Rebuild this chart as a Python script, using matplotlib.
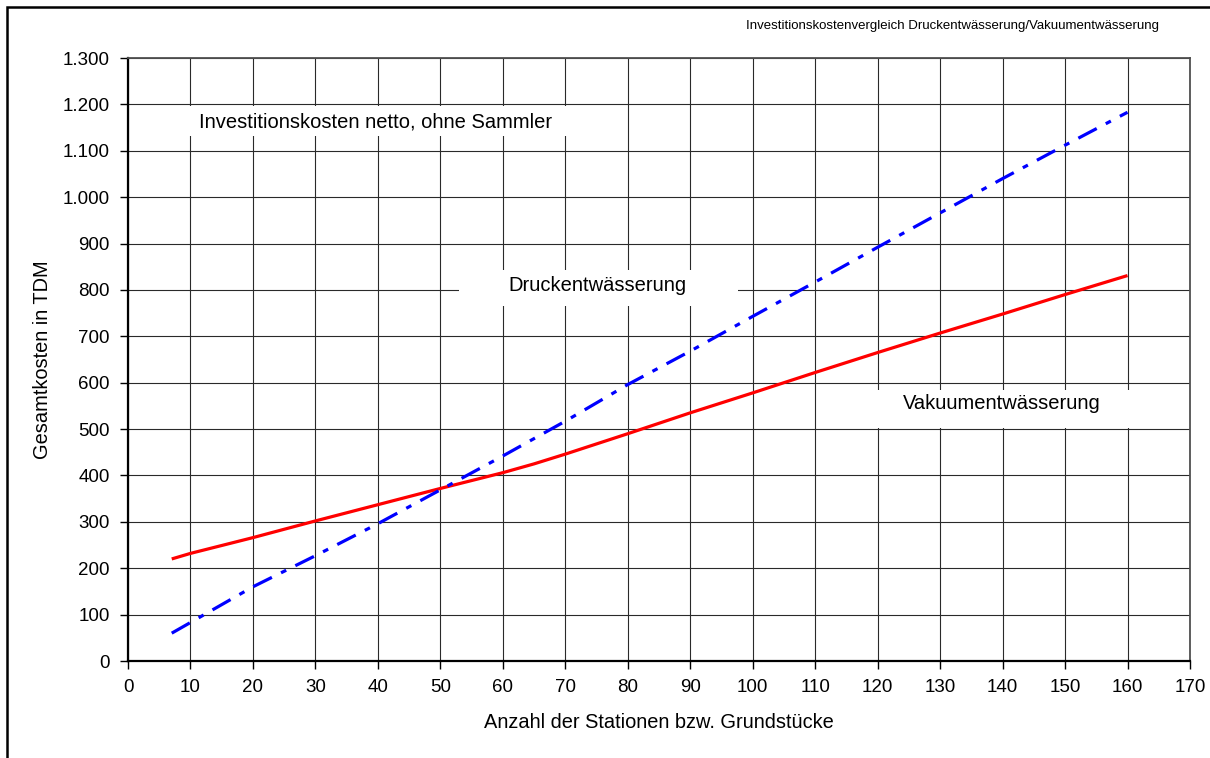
import matplotlib
matplotlib.use("Agg")
import matplotlib.pyplot as plt
from matplotlib.patches import Rectangle
from matplotlib.ticker import FixedLocator

plt.rcParams['font.family'] = ['Liberation Sans', 'DejaVu Sans']

# ---- data ----
stations = [7, 10, 20, 30, 40, 50, 60, 65, 70, 80, 90, 100, 110, 120, 130, 140, 150, 160]
vakuum   = [220, 232, 266, 302, 337, 372, 406, 425, 446, 490, 535, 578, 622, 665, 707, 748, 790, 831]
druck_x  = [7, 10, 20, 30, 40, 50, 60, 70, 80, 90, 100, 110, 120, 130, 140, 150, 160]
druck    = [60, 83, 160, 227, 296, 369, 442, 517, 596, 668, 743, 817, 892, 966, 1040, 1112, 1183]

x_ticks = list(range(0, 171, 10))
y_ticks = list(range(0, 1301, 100))
y_tick_labels = ['0', '100', '200', '300', '400', '500', '600', '700', '800', '900',
                 '1.000', '1.100', '1.200', '1.300']

title = 'Investitionskostenvergleich Druckentwässerung/Vakuumentwässerung'
xlabel = 'Anzahl der Stationen bzw. Grundstücke'
ylabel = 'Gesamtkosten in TDM'
note = 'Investitionskosten netto, ohne Sammler'
label_druck = 'Druckentwässerung'
label_vakuum = 'Vakuumentwässerung'

W, H = 1210, 758
fig = plt.figure(figsize=(W / 100, H / 100), dpi=100)
ax = fig.add_axes([128 / W, 1 - 661 / H, (1190 - 128) / W, (661 - 58) / H])

# figure frame (top & left visible)
fig.patches.append(Rectangle((7 / W, -0.1), 1.2, 1 - 7 / H + 0.1, transform=fig.transFigure,
                             fill=False, edgecolor='black', linewidth=1.8, zorder=0))

ax.set_xlim(0, 170)
ax.set_ylim(0, 1300)
ax.xaxis.set_major_locator(FixedLocator(x_ticks))
ax.set_xticklabels([str(v) for v in x_ticks])
ax.yaxis.set_major_locator(FixedLocator(y_ticks))
ax.set_yticklabels(y_tick_labels)

ax.set_axisbelow(True)
ax.grid(True, color='#2a2a2a', linewidth=0.8)

for s in ['left', 'bottom']:
    ax.spines[s].set_color('black')
    ax.spines[s].set_linewidth(1.6)
for s in ['top', 'right']:
    ax.spines[s].set_color('#505050')
    ax.spines[s].set_linewidth(1.3)

ax.tick_params(axis='both', direction='out', length=6, width=1.0, color='black',
               labelsize=13.5, labelcolor='black')
ax.tick_params(axis='x', pad=7)
ax.tick_params(axis='y', pad=7)

# lines
ax.plot(stations, vakuum, color='#ff0000', linewidth=2.3, solid_capstyle='butt', zorder=4)
ax.plot(druck_x, druck, color='#0000ff', linewidth=2.3, linestyle=(0, (6.5, 3.2, 1.8, 3.2)),
        dash_capstyle='butt', zorder=4)

# white label boxes
ax.add_patch(Rectangle((8.5, 1132), 62.5, 64, facecolor='white', edgecolor='none', zorder=2))
ax.add_patch(Rectangle((53.0, 765), 44.6, 78, facecolor='white', edgecolor='none', zorder=2))
ax.add_patch(Rectangle((117.5, 502), 52.5, 82, facecolor='white', edgecolor='none', zorder=2))

ax.text(39.7, 1162, note, fontsize=14.5, ha='center', va='center', zorder=3)
ax.text(75.1, 810, label_druck, fontsize=14.5, ha='center', va='center', zorder=3)
ax.text(139.8, 555, label_vakuum, fontsize=14.5, ha='center', va='center', zorder=3)

fig.text(952 / W, 1 - 26 / H, title, fontsize=9.5, ha='center', va='center')
ax.set_xlabel(xlabel, fontsize=14.4, va='center')
ax.xaxis.set_label_coords(0.5, -(723 - 661) / 603)
ax.set_ylabel(ylabel, fontsize=14.4, va='center')
ax.yaxis.set_label_coords(-(128 - 43) / 1062, 0.5)

fig.savefig('out.png', dpi=100)
